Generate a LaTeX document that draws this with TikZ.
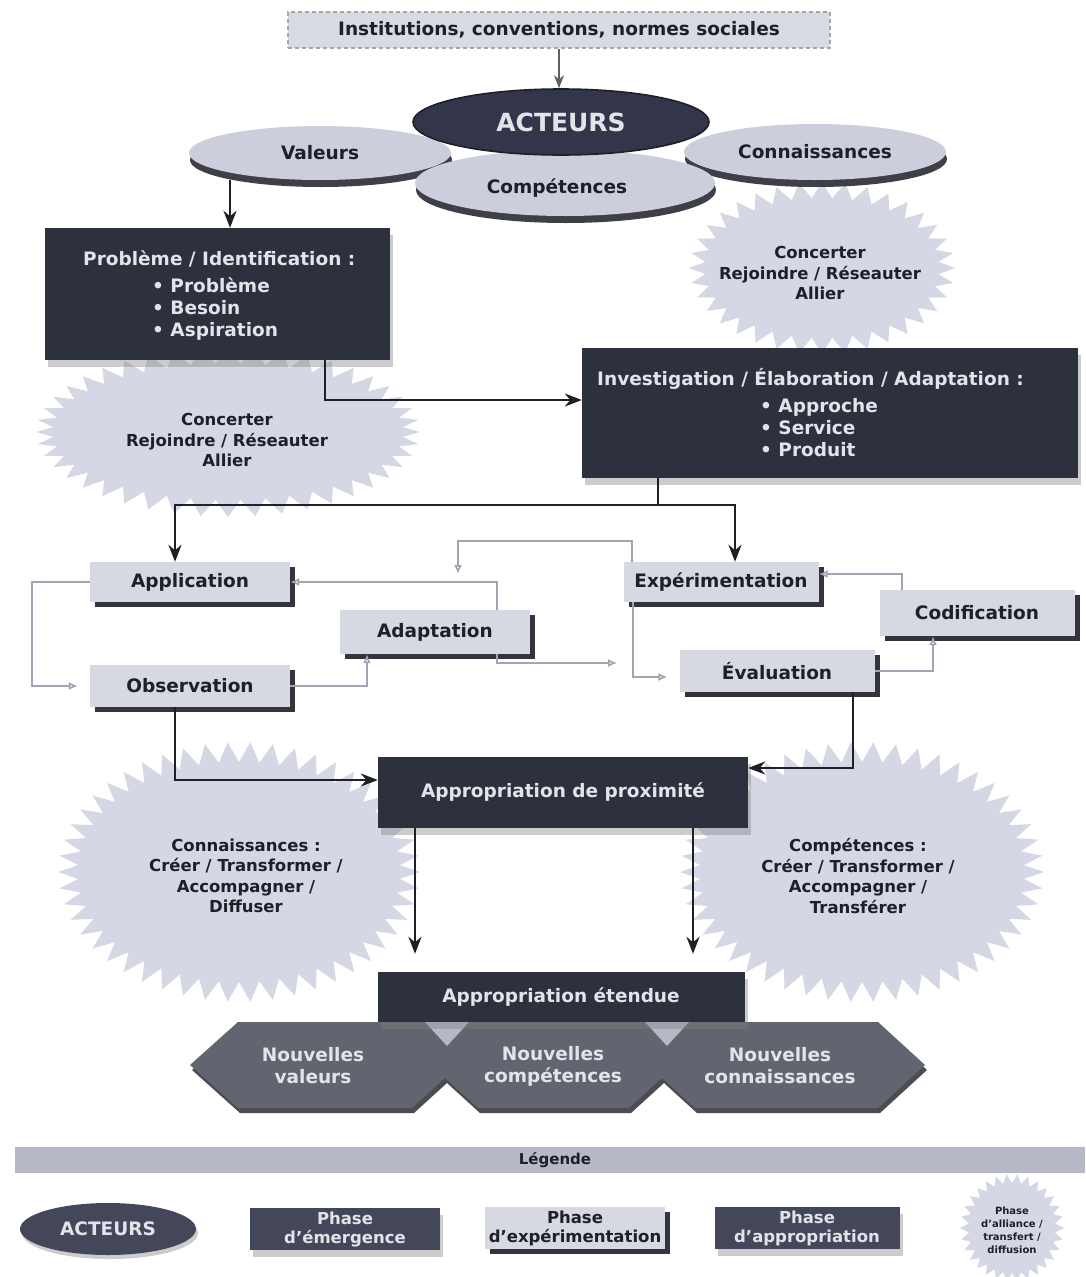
\documentclass[tikz,border=0pt]{standalone}
\usepackage{fontspec}
\setmainfont{DejaVu Sans}
\usetikzlibrary{arrows.meta,shadows,shapes.geometric}

\definecolor{ink}{HTML}{1E1F27}
\definecolor{darkfill}{HTML}{2D303D}
\definecolor{legdark}{HTML}{44475A}
\definecolor{paletext}{HTML}{E3E4EA}
\definecolor{lightfill}{HTML}{D6D8E2}
\definecolor{discfill}{HTML}{CCCFDB}
\definecolor{actfill}{HTML}{33364A}
\definecolor{burstfill}{HTML}{D5D8E4}
\definecolor{thinline}{HTML}{A0A4B3}
\definecolor{bandfill}{HTML}{62656F}
\definecolor{notchfill}{HTML}{B6B9C5}
\definecolor{legbar}{HTML}{B7BAC6}
\definecolor{instfill}{HTML}{D9DBE4}

\newcommand\fmid{\fontsize{18.5}{22}\selectfont\bfseries}
\newcommand\fburst{\fontsize{16.5}{20.5}\selectfont\bfseries}
\newcommand\fleg{\fontsize{16.5}{19}\selectfont\bfseries}
\newcommand\flegtitle{\fontsize{15}{18}\selectfont\bfseries}
\newcommand\fbig{\fontsize{25}{30}\selectfont\bfseries}
\newcommand\ftiny{\fontsize{10}{13}\selectfont\bfseries}

% saw-toothed elliptical burst: cx, cy, rx, ry, tooth depth, teeth, samples (=2*teeth+1)
\newcommand\burstshape[7]{%
  \fill[burstfill] plot[variable=\t, samples=#7, domain=0:2*#6]
    ({#1+(#3-#5*mod(round(\t),2))*cos((180/#6)*\t)}, {#2+(#4-#5*mod(round(\t),2))*sin((180/#6)*\t)}) -- cycle;}

\tikzset{
  darkbox/.style={rectangle, fill=darkfill, inner sep=0pt, text=paletext, font=\fmid,
    drop shadow={shadow xshift=3pt, shadow yshift=-7pt, fill=black!50, opacity=.4}},
  lightbox/.style={rectangle, fill=lightfill, inner sep=0pt, text=ink, font=\fmid,
    drop shadow={shadow xshift=5pt, shadow yshift=-5pt, fill=ink, opacity=.9}},
  dtext/.style={text=paletext, font=\fmid, inner sep=0pt},
  btext/.style={text=ink, font=\fburst, align=center, inner sep=0pt},
  discL/.style={ellipse, fill=discfill, inner sep=0pt, text=ink, font=\fmid,
    drop shadow={shadow xshift=1pt, shadow yshift=-7pt, fill=ink, opacity=.85}},
  discA/.style={ellipse, fill=actfill, draw=ink, line width=1.6pt, inner sep=0pt,
    text=paletext, font=\fbig},
  darr/.style={draw=ink, line width=2.7pt, -{Stealth[length=17pt,width=13pt]}},
  dline/.style={draw=ink, line width=2.7pt},
  larr/.style={draw=thinline, line width=1.6pt, -{Latex[open,length=9pt,width=8pt]}},
  garr/.style={draw=gray!75!black, line width=2pt, -{Stealth[length=13pt,width=10pt]}},
}

\begin{document}
\begin{tikzpicture}[x=1pt,y=-1pt]
\useasboundingbox (0,0) rectangle (1086,1277);
\fill[white] (0,0) rectangle (1086,1277);

% alliance / transfer / diffusion bursts
\burstshape{822}{268}{133}{86}{16}{36}{73}
\burstshape{228}{432}{192}{85}{17}{44}{89}
\burstshape{239}{872}{181}{130}{20}{50}{101}
\burstshape{862}{872}{182}{130}{20}{50}{101}

% social frame
\node[rectangle, fill=instfill, draw=gray!70, dash pattern=on 4pt off 3pt, line width=1.3pt,
      minimum width=542pt, minimum height=36pt, inner sep=0pt, font=\fmid, text=ink]
      (inst) at (559,30) {Institutions, conventions, normes sociales};

% actors and their resources
\node[discL, minimum width=262pt, minimum height=54pt] (valE) at (320,153) {Valeurs};
\node[discL, minimum width=262pt, minimum height=56pt] (conE) at (815,152) {Connaissances};
\node[discL, minimum width=300pt, minimum height=66pt] (cmpE) at (565,183) {};
\node[font=\fmid, text=ink, inner sep=0pt] (cmpT) at (557,188) {Compétences};
\node[discA, minimum width=296pt, minimum height=66pt] (actE) at (561,122) {ACTEURS};
\draw[garr] (inst.south) -- (inst.south |- actE.north);

% emergence
\node[darkbox, minimum width=345pt, minimum height=132pt] (pb) at (217,294) {};
\node[dtext, align=left, anchor=north west] (pbT) at (83,250)
  {Problème / Identification :\\[5pt]\hspace*{69pt}• Problème\\\hspace*{69pt}• Besoin\\\hspace*{69pt}• Aspiration};
\draw[darr] (valE.south -| 230,0) -- (230,0 |- pb.north);

\node[btext] (bt1) at (820,273) {Concerter\\Rejoindre / Réseauter\\Allier};
\node[btext] (bt2) at (227,440) {Concerter\\Rejoindre / Réseauter\\Allier};

\node[darkbox, minimum width=496pt, minimum height=130pt] (inv) at (830,413) {};
\node[dtext, align=left, anchor=north west] (invT) at (597,368)
  {Investigation / Élaboration / Adaptation :\\[5pt]\hspace*{163pt}• Approche\\\hspace*{163pt}• Service\\\hspace*{163pt}• Produit};
\draw[darr] (pb.south -| 325,0) |- (inv.west |- 0,400);

% experimentation
\node[lightbox, minimum width=200pt, minimum height=40pt] (app) at (190,582) {Application};
\node[lightbox, minimum width=200pt, minimum height=42pt] (obs) at (190,686) {Observation};
\node[lightbox, minimum width=190pt, minimum height=44pt] (adp) at (435,632) {Adaptation};
\node[lightbox, minimum width=195pt, minimum height=40pt] (exp) at (721,582) {Expérimentation};
\node[lightbox, minimum width=195pt, minimum height=46pt] (cod) at (977,613) {Codification};
\node[lightbox, minimum width=195pt, minimum height=42pt] (eva) at (777,671) {Évaluation};

\coordinate (split) at (658,505);
\draw[dline] (inv.south -| split) -- (split);
\draw[darr] (split) -| (175,0 |- app.north);
\draw[darr] (split) -| (735,0 |- exp.north);

\coordinate (loopEnd) at (458,574);
\coordinate (adpEnd) at (617,663);
\draw[larr] (app.west) -- ++(-58,0) |- ([xshift=-12pt]obs.west);
\draw[larr] (obs.east) -| (367,0 |- adp.south);
\draw[larr] (497,0 |- adp.north) |- (app.east);
\draw[larr] (632,0 |- exp.north) -- ++(0,-21) -| (loopEnd);
\draw[larr] (497,0 |- adp.south) |- (adpEnd);
\draw[larr] (633,0 |- exp.south) |- ([xshift=-12pt,yshift=-6pt]eva.west);
\draw[larr] (eva.east) -| (933,0 |- cod.south);
\draw[larr] (902,0 |- cod.north) |- ([yshift=8pt]exp.east);

% appropriation
\node[darkbox, minimum width=370pt, minimum height=71pt] (prox) at (563,792) {Appropriation de proximité};
\draw[darr] (175,0 |- obs.south) |- (prox.west |- 0,780);
\draw[darr] (853,0 |- eva.south) |- (prox.east |- 0,768);

\node[btext] (bt3) at (246,876) {Connaissances :\\Créer / Transformer /\\Accompagner /\\Diffuser};
\node[btext] (bt4) at (858,876) {Compétences :\\Créer / Transformer /\\Accompagner /\\Transférer};

% outcomes band
\path[fill=bandfill, drop shadow={shadow xshift=2pt, shadow yshift=-5pt, fill=ink, opacity=.8}]
  (190,1065) -- (238,1022) -- (878,1022) -- (925,1065) -- (878,1108) -- (695,1108)
  -- (662,1078) -- (629,1108) -- (478,1108) -- (445,1078) -- (412,1108) -- (238,1108) -- cycle;
\fill[notchfill] (425,1022) -- (469,1022) -- (447,1046) -- cycle;
\fill[notchfill] (645,1022) -- (689,1022) -- (667,1046) -- cycle;
\node[dtext, align=center] (nv1) at (313,1066) {Nouvelles\\valeurs};
\node[dtext, align=center] (nv2) at (553,1066) {Nouvelles\\compétences};
\node[dtext, align=center] (nv3) at (780,1066) {Nouvelles\\connaissances};

\node[darkbox, minimum width=367pt, minimum height=50pt] (etd) at (561,997) {Appropriation étendue};
\draw[darr, shorten >=18pt] (prox.south -| 415,0) -- (415,0 |- etd.north);
\draw[darr, shorten >=18pt] (prox.south -| 693,0) -- (693,0 |- etd.north);

% legend
\fill[legbar] (15,1147) rectangle (1085,1173);
\node[font=\flegtitle, text=ink] (legT) at (555,1160) {Légende};
\node[ellipse, fill=legdark, minimum width=176pt, minimum height=52pt, inner sep=0pt,
      text=paletext, font=\fmid,
      drop shadow={shadow xshift=2pt, shadow yshift=-4pt, fill=black!50, opacity=.4}]
      (lgAct) at (108,1229) {ACTEURS};
\node[darkbox, fill=legdark, font=\fleg, align=center, minimum width=190pt, minimum height=42pt]
      (lgEm) at (345,1229) {Phase\\d'émergence};
\node[lightbox, font=\fleg, align=center, minimum width=180pt, minimum height=42pt]
      (lgEx) at (575,1228) {Phase\\d'expérimentation};
\node[darkbox, fill=legdark, font=\fleg, align=center, minimum width=185pt, minimum height=42pt]
      (lgAp) at (807,1228) {Phase\\d'appropriation};
\burstshape{1012}{1228}{52}{54}{9}{30}{61}
\node[font=\ftiny, align=center, text=ink] (lgBu) at (1012,1230) {Phase\\d'alliance /\\transfert /\\diffusion};
\end{tikzpicture}
\end{document}
